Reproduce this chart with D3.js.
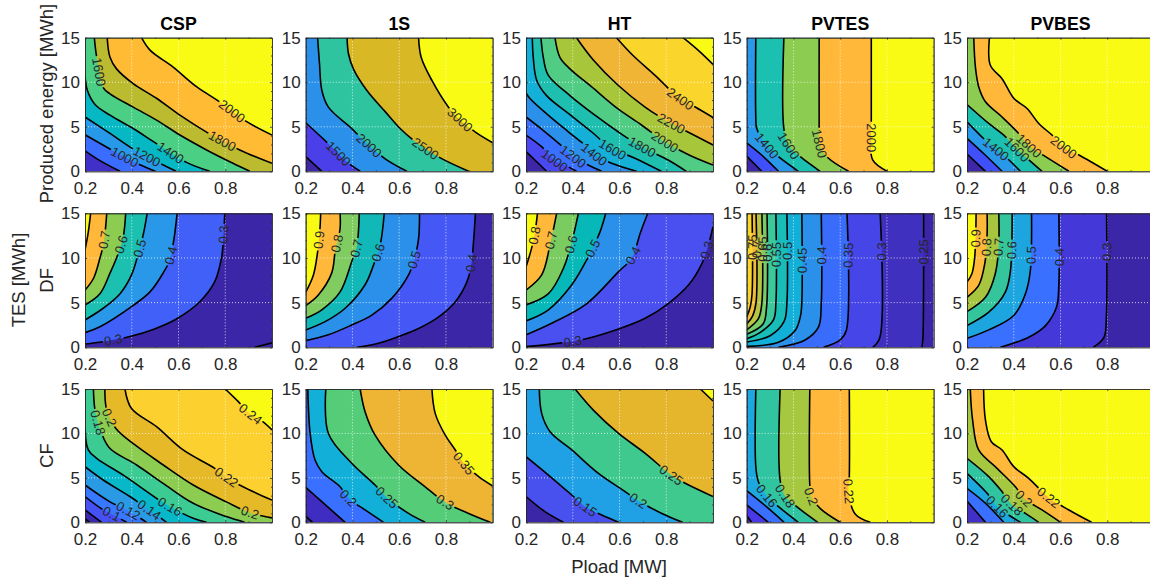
<!DOCTYPE html>
<html><head><meta charset="utf-8">
<style>html,body{margin:0;padding:0;background:#fff;overflow:hidden}svg{display:block}text{font-family:"Liberation Sans",Arial,sans-serif;fill:#262626}</style>
<script src="https://cdn.jsdelivr.net/npm/d3@7"></script>
</head><body><svg id="c" width="1150" height="581"></svg>
<script>
// ---- chart content ----
const techs = ["CSP","1S","HT","PVTES","PVBES"];
const rowNames = ["Produced energy [MWh]","DF","CF"];
const xTicks = [0.2,0.4,0.6,0.8];
const yTicks = [0,5,10,15];
const xMinor = [0.3,0.5,0.7,0.9];
const yMinor = [1,2,3,4,6,7,8,9,11,12,13,14];

// contour lines: [level, [[Pload, TES], ...]]
const energyCSP = [
[800,[[.2,2.3],[.264,1.2],[.35,0]]],
[1000,[[.2,4.1],[.314,2.4],[.406,1.1],[.5,0]]],
[1200,[[.2,6.1],[.307,4.25],[.406,2.5],[.535,.7],[.59,0]]],
[1400,[[.2,10.7],[.21,9.1],[.243,7.5],[.307,6.3],[.406,4.8],[.506,3.1],[.634,1],[.734,0]]],
[1600,[[.24,15],[.25,12.8],[.278,9.4],[.307,8.7],[.406,7.2],[.506,5.75],[.606,4.07],[.72,2.4],[.833,.9],[.905,0]]],
[1800,[[.295,15],[.307,12.8],[.335,11.5],[.406,9.85],[.506,8.2],[.606,6.3],[.72,4.4],[.862,2.4],[1,.9]]],
[2000,[[.442,15],[.478,13.6],[.577,11.7],[.677,9.5],[.776,7.8],[.89,5.6],[1,4.07]]]];
const energy1S = [
[1000,[[.2,1.65],[.269,0]]],
[1500,[[.2,5.45],[.297,3.1],[.383,.9],[.433,0]]],
[2000,[[.251,15],[.259,12.1],[.269,9.1],[.297,7.2],[.397,4.8],[.454,3.3],[.54,1.4],[.633,0]]],
[2500,[[.377,15],[.383,13.2],[.404,11.5],[.461,9.1],[.54,6.7],[.604,4.8],[.661,3.5],[.769,1.6],[.897,0]]],
[3000,[[.683,15],[.694,12.8],[.74,10.2],[.811,7.2],[.861,5.75],[.926,4.4],[1,3.2]]]];
const energyHT = [
[800,[[.2,2.2],[.238,1.27],[.288,0]]],
[1000,[[.2,4.07],[.267,2.76],[.324,1.16],[.374,.6],[.416,0]]],
[1200,[[.2,6.1],[.281,4.44],[.352,2.87],[.402,1.64],[.466,.7],[.523,0]]],
[1400,[[.2,8.8],[.217,8.17],[.295,6.3],[.381,4.44],[.452,2.95],[.495,1.83],[.566,.9],[.673,0]]],
[1600,[[.227,15],[.231,12.8],[.246,10.2],[.288,8.5],[.381,6.5],[.48,4.44],[.573,2.4],[.651,1.64],[.779,0]]],
[1800,[[.264,15],[.274,12.8],[.295,10.8],[.388,8.5],[.495,6.3],[.594,4.44],[.694,2.76],[.808,1.27],[.886,0]]],
[2000,[[.324,15],[.345,12.8],[.388,11.5],[.48,9.5],[.594,7],[.694,5.2],[.794,3.3],[.9,1.8],[1,.7]]],
[2200,[[.416,15],[.488,12.5],[.594,9.66],[.708,7.24],[.808,5.56],[.879,4.6],[1,2.95]]],
[2400,[[.587,15],[.658,13],[.751,10.8],[.858,8.17],[.922,7.24],[1,6.04]]],
[2600,[[.872,15],[.936,13.6],[1,12]]]];
const energyPVTES = [
[1000,[[.2,1.7],[.264,0]]],
[1200,[[.2,3.2],[.264,1.83],[.336,0]]],
[1400,[[.239,15],[.239,6.1],[.243,4.8],[.286,2.87],[.336,1.64],[.421,0]]],
[1600,[[.359,15],[.359,4.8],[.379,2.87],[.429,1.64],[.514,0]]],
[1800,[[.51,15],[.51,4.8],[.511,3.1],[.543,1.64],[.636,0]]],
[2000,[[.733,15],[.733,6.1],[.733,3.8],[.739,1.27],[.8,0]]]];
const energyPVBES = [
[1000,[[.2,1.94],[.279,0]]],
[1200,[[.2,3.7],[.271,2],[.35,0]]],
[1400,[[.2,5.56],[.293,3.13],[.364,1.64],[.429,0]]],
[1600,[[.2,7.5],[.293,5.37],[.364,3.9],[.407,2.6],[.457,1.45],[.521,0]]],
[1800,[[.229,15],[.236,11.7],[.25,9.5],[.279,7.8],[.35,6.1],[.421,4.25],[.464,2.87],[.536,1.64],[.636,0]]],
[2000,[[.296,15],[.3,11.9],[.35,10.4],[.4,8.2],[.457,7.05],[.507,5.37],[.571,3.9],[.614,2.7],[.679,1.83],[.8,0]]]];

const dfCSP = [
[.25,[[.926,0],[1,.5]]],
[.3,[[.2,.37],[.278,.63],[.392,1.2],[.492,2],[.591,3.17],[.691,5.1],[.755,7.35],[.784,10],[.791,11.8],[.798,15]]],
[.4,[[.2,1.64],[.264,2.3],[.399,4.55],[.478,6.2],[.534,8.3],[.563,9.8],[.581,12.2],[.594,15]]],
[.5,[[.2,3.06],[.278,4.37],[.35,6],[.399,8.1],[.428,10.5],[.449,12.6],[.466,15]]],
[.6,[[.2,4.74],[.264,6],[.307,8.3],[.342,10.5],[.364,12.4],[.374,15]]],
[.7,[[.2,6.4],[.236,7.7],[.264,10],[.281,11.8],[.293,15]]],
[.8,[[.2,10.9],[.214,12.9],[.224,15]]]];
const df1S = [
[.4,[[.419,0],[.511,.45],[.597,1.2],[.683,2.1],[.769,3.4],[.84,5.1],[.89,7.35],[.909,9.4],[.919,12.2],[.926,15]]],
[.5,[[.2,.75],[.297,1.4],[.397,2.5],[.483,3.6],[.569,5.5],[.64,8.1],[.666,10],[.683,12.2],[.687,15]]],
[.6,[[.2,1.94],[.283,2.87],[.369,4.37],[.454,7],[.49,9.2],[.519,11.5],[.536,15]]],
[.7,[[.2,3.25],[.269,4.2],[.347,6.2],[.397,9.6],[.419,11.3],[.429,15]]],
[.8,[[.2,4.66],[.254,5.86],[.311,8.3],[.326,10.7],[.347,13.3],[.347,15]]],
[.9,[[.2,6.16],[.233,8.1],[.25,10.5],[.261,13.3],[.264,15]]]];
const dfHT = [
[.3,[[.2,.07],[.353,.5],[.453,.93],[.596,2.05],[.71,3.25],[.81,4.93],[.896,7],[.953,9.4],[.981,11.5],[1,13.5]]],
[.4,[[.2,1.4],[.31,2.7],[.453,4.74],[.596,8.47],[.653,10],[.689,12.8],[.721,15]]],
[.5,[[.2,2.95],[.296,4.2],[.396,7],[.46,9.8],[.517,12.95],[.541,15]]],
[.6,[[.2,4.74],[.296,6],[.36,8.84],[.396,11.8],[.424,15]]],
[.7,[[.2,6.4],[.267,8.1],[.303,11.5],[.331,15]]],
[.8,[[.2,9],[.224,11.1],[.239,12.95],[.249,15]]]];
const dfPVTES = [
[.25,[[.95,0],[.954,1.1],[.957,15]]],
[.3,[[.739,0],[.769,1.05],[.771,15]]],
[.35,[[.529,0],[.6,.82],[.626,1.87],[.629,15]]],
[.4,[[.336,0],[.45,.82],[.507,2.25],[.519,4.87],[.519,15]]],
[.45,[[.2,.1],[.336,.56],[.407,1.87],[.43,3.5],[.436,5.2],[.436,15]]],
[.5,[[.2,.6],[.3,1.3],[.36,2.9],[.372,5],[.372,15]]],
[.55,[[.2,.95],[.26,1.7],[.315,3.1],[.325,5],[.325,15]]],
[.6,[[.2,1.45],[.27,2.6],[.285,4.5],[.287,15]]],
[.65,[[.2,1.95],[.25,3.2],[.265,5],[.265,15]]],
[.7,[[.2,2.6],[.225,3.5],[.24,5],[.24,15]]],
[.75,[[.2,3.4],[.215,4.5],[.223,6],[.223,15]]]];
const dfPVBES = [
[.3,[[.74,0],[.786,1.12],[.796,3.37],[.797,15]]],
[.4,[[.343,0],[.464,1.12],[.536,2.43],[.583,4.5],[.593,7.1],[.593,15]]],
[.5,[[.2,1],[.293,1.95],[.4,3.56],[.45,6],[.471,8.6],[.476,15]]],
[.6,[[.2,2.43],[.293,3.93],[.364,6.18],[.386,8.6],[.393,15]]],
[.7,[[.2,4],[.279,5.6],[.321,8.24],[.336,11.6],[.336,15]]],
[.8,[[.2,5.6],[.25,6.93],[.276,9.36],[.286,12.7],[.286,15]]],
[.9,[[.2,7.3],[.221,8.24],[.233,10.1],[.239,15]]]];

const cfCSP = [
[.06,[[.2,.4],[.22,0]]],
[.08,[[.2,1.4],[.271,0]]],
[.1,[[.2,2.9],[.278,1.4],[.314,.94],[.378,0]]],
[.12,[[.2,4.2],[.307,2.3],[.385,1.3],[.463,0]]],
[.14,[[.2,6.26],[.278,4.76],[.392,2.9],[.475,1.39],[.549,0]]],
[.16,[[.2,10.6],[.214,8.14],[.25,7.2],[.364,5.3],[.506,2.7],[.563,1.76],[.663,.45],[.72,0]]],
[.18,[[.236,15],[.243,12.6],[.271,10],[.307,8.3],[.421,6.45],[.534,4.39],[.663,2.14],[.805,.64],[.883,0]]],
[.2,[[.285,15],[.293,12.6],[.335,10.46],[.414,8.7],[.535,6.45],[.663,4.2],[.805,2.3],[.905,1.09],[1,.5]]],
[.22,[[.371,15],[.399,12.8],[.506,10.76],[.62,8.14],[.755,6.07],[.805,5.06],[.876,4],[1,2.5]]],
[.24,[[.8,15],[.855,13.6],[.907,12.2],[.962,11.3],[1,10.4]]]];
const cf1S = [
[.1,[[.2,.7],[.229,0]]],
[.15,[[.2,3.94],[.269,2.32],[.369,0]]],
[.2,[[.209,15],[.219,10],[.24,7],[.269,5.7],[.347,4],[.383,2.7],[.454,1.39],[.533,0]]],
[.25,[[.286,15],[.297,10],[.397,6.64],[.497,4.2],[.547,2.77],[.64,1],[.711,0]]],
[.3,[[.433,15],[.454,12.45],[.497,9.8],[.597,6.45],[.711,4],[.797,2.25],[.897,1],[.99,0]]],
[.35,[[.74,15],[.754,12.26],[.797,9.8],[.84,8.14],[.876,6.64],[.94,5.14],[1,4.09]]]];
const cfHT = [
[.1,[[.2,2.9],[.281,1.2],[.36,0]]],
[.15,[[.2,7.39],[.296,5.32],[.396,3.07],[.453,1.76],[.524,.82],[.596,0]]],
[.2,[[.257,15],[.267,12.26],[.303,10.2],[.396,8.14],[.51,5.5],[.624,3.45],[.679,2.44],[.781,1],[.87,0]]],
[.25,[[.41,15],[.489,12.6],[.596,10],[.71,7.76],[.821,5.32],[.881,4.39],[1,2.9]]],
[.3,[[.946,15],[1,13.65]]]];
const cfPVTES = [
[.12,[[.2,.75],[.221,0]]],
[.13,[[.2,1.95],[.293,0]]],
[.14,[[.2,3.56],[.293,1.57],[.36,0]]],
[.16,[[.239,15],[.239,6.26],[.25,4.57],[.286,2.96],[.336,1.76],[.421,0]]],
[.18,[[.343,15],[.343,4.76],[.364,2.96],[.414,1.76],[.504,0]]],
[.2,[[.47,15],[.47,4.2],[.476,2.9],[.514,1.57],[.6,0]]],
[.22,[[.639,15],[.639,5.14],[.636,3.45],[.664,.94],[.729,0]]]];
const cfPVBES = [
[.12,[[.2,2.4],[.279,0]]],
[.14,[[.2,3.82],[.279,2.14],[.357,0]]],
[.16,[[.2,5.5],[.286,3.26],[.329,1.76],[.429,0]]],
[.18,[[.2,7.2],[.293,5.14],[.35,3.45],[.393,1.95],[.45,1],[.507,0]]],
[.2,[[.214,15],[.224,11.5],[.25,8.14],[.321,6.26],[.407,4],[.443,2.7],[.521,1.39],[.6,0]]],
[.22,[[.271,15],[.279,11.5],[.304,9.07],[.35,8.14],[.4,6.26],[.464,4.95],[.55,2.77],[.636,1.39],[.733,0]]]];

// contour labels: [text, Pload, TES] (snapped to the line of that level)
const energyCSPLabels = [["1000",.364,1.27],["1200",.463,1.53],["1400",.563,2],["1600",.26,11.15],["1800",.784,3.3],["2000",.83,6.8]];
const energy1SLabels = [["1500",.337,1.9],["2000",.469,2.87],["2500",.711,2.5],["3000",.861,5.8]];
const energyHTLabels = [["1000",.321,1.16],["1200",.402,1.7],["1400",.495,2],["1600",.573,2.57],["1800",.698,2.76],["2000",.794,3.3],["2200",.822,5.45],["2400",.858,8.1]];
const energyPVTESLabels = [["1400",.286,2.87],["1600",.379,2.87],["1800",.511,3.1],["2000",.733,3.8]];
const energyPVBESLabels = [["1400",.324,2.5],["1600",.404,2.13],["1800",.464,2.87],["2000",.614,2.7]];
const dfCSPLabels = [["0.3",.321,.7],["0.3",.798,12.65],["0.4",.566,10.3],["0.5",.435,11.1],["0.6",.354,11.5],["0.7",.283,12]];
const df1SLabels = [["0.4",.909,9.4],["0.5",.666,9.8],["0.6",.511,10.6],["0.7",.411,11.1],["0.8",.34,11.6],["0.9",.257,12]];
const dfHTLabels = [["0.3",.4,.65],["0.3",.974,10.9],["0.4",.657,10.3],["0.5",.486,11.1],["0.6",.384,11.6],["0.7",.307,12],["0.8",.239,12.5]];
const dfPVTESLabels = [["0.25",.957,10.7],["0.3",.771,10.7],["0.35",.629,10.3],["0.4",.519,10.3],["0.45",.436,9.7],["0.5",.372,10.8],["0.55",.325,10.4],["0.6",.287,10.6],["0.65",.265,11],["0.7",.24,11],["0.75",.223,11.2]];
const dfPVBESLabels = [["0.3",.797,10.7],["0.4",.593,10.1],["0.5",.476,10.3],["0.6",.393,10.86],["0.7",.336,11.2],["0.8",.286,11.2],["0.9",.239,12.2]];
const cfCSPLabels = [["0.1",.314,.94],["0.12",.385,1.3],["0.14",.475,1.39],["0.16",.563,1.76],["0.18",.25,11.2],["0.2",.305,11.8],["0.2",.905,1.09],["0.22",.805,5.06],["0.24",.907,12.2]];
const cf1SLabels = [["0.2",.383,2.7],["0.25",.547,2.77],["0.3",.797,2.25],["0.35",.876,6.64]];
const cfHTLabels = [["0.15",.453,1.76],["0.2",.679,2.44],["0.25",.821,5.32]];
const cfPVTESLabels = [["0.16",.286,2.96],["0.18",.364,2.96],["0.2",.476,2.9],["0.22",.636,3.45]];
const cfPVBESLabels = [["0.16",.329,1.76],["0.18",.393,1.95],["0.2",.443,2.7],["0.22",.55,2.77]];

// ---- band colours, lowest band first ----
const colorsEnergyCSP = ["#4030c8","#3a6cff","#2799e8","#06b8c4","#4acf85","#bcbb2f","#ffbb33","#f9fb15"];
const colorsEnergy1S = ["#3e26a8","#4a3fe8","#2a90ea","#2fc4a0","#d9b826","#f9fb15"];
const colorsEnergyHT = ["#3e26a8","#4a48f0","#3a70ff","#2a90ea","#15b0d8","#1fbfb0","#50cc85","#a8c63a","#f0b535","#fad52b","#f9fb15"];
const colorsEnergyPV = ["#3e26a8","#4050f8","#2a98e8","#1cc0b0","#8ccc50","#ffb83a","#f9fb15"];
const colorsDfCSP = ["#3c26a8","#3c26a8","#4060f8","#2a98e8","#1cc0b0","#8ccc50","#ffb83a","#f9fb15"];
const colorsDf1S = ["#3c26a8","#4558f5","#2a90ea","#12b8b8","#80cc60","#ffb83a","#f9fb15"];
const colorsDfHT = ["#3c26a8","#4a50f0","#2a90ea","#06b8b8","#7acc60","#ffb83a","#f9fb15"];
const colorsDfPVTES = ["#3c26a8","#3f30c0","#4645e8","#3a6cfb","#2a90ea","#12b0d8","#18bdb8","#3cc89a","#78cc68","#b8c444","#f0bc38","#f9d52e"];
const colorsDfPVBES = ["#3c26a8","#4538d8","#3a70ff","#1ca5de","#35c59c","#a8c540","#ffb83a","#f9fb15"];
const colorsCfCSP = ["#3c26a8","#3c28ac","#4550f5","#3878ff","#2a9ae5","#06b8c8","#3ccb92","#8ccc50","#e5b928","#fcd02e","#f9fb15"];
const colorsCf1S = ["#3c26a8","#3f2cc0","#3a70ff","#12b0d8","#55cc78","#eeb535","#f9fb15"];
const colorsCfHT = ["#3c26a8","#4850ee","#20a0e5","#3fc98e","#e5b52c","#f9fb15"];
const colorsCfPVTES = ["#3c26a8","#4838e8","#3a70ff","#1ca8de","#30c5a0","#a5c840","#ffb83a","#f9fb15"];
const colorsCfPVBES = ["#4030c8","#3a70ff","#1ca8de","#30c5a0","#a5c840","#ffb83a","#f9fb15"];

const grid = [
 [[energyCSP,energyCSPLabels,colorsEnergyCSP],[energy1S,energy1SLabels,colorsEnergy1S],[energyHT,energyHTLabels,colorsEnergyHT],[energyPVTES,energyPVTESLabels,colorsEnergyPV],[energyPVBES,energyPVBESLabels,colorsEnergyPV]],
 [[dfCSP,dfCSPLabels,colorsDfCSP],[df1S,df1SLabels,colorsDf1S],[dfHT,dfHTLabels,colorsDfHT],[dfPVTES,dfPVTESLabels,colorsDfPVTES],[dfPVBES,dfPVBESLabels,colorsDfPVBES]],
 [[cfCSP,cfCSPLabels,colorsCfCSP],[cf1S,cf1SLabels,colorsCf1S],[cfHT,cfHTLabels,colorsCfHT],[cfPVTES,cfPVTESLabels,colorsCfPVTES],[cfPVBES,cfPVBESLabels,colorsCfPVBES]]
];

// ---- layout ----
const colX = [85,305.7,526,746.7,967], panelW = 187;
const rowY = [[37.7,171.3],[213.3,347.3],[389,522.3]];
const svg = d3.select("#c");
const ink = "#262626";

function closure(pts,row){
  const a=pts[0], b=pts[pts.length-1], c=[];
  if(row===1){ // high values toward the upper left
    if(b[0]>=1 && b[1]<15) c.push([1,15]);
    c.push([.2,15]);
    if(a[1]<=0) c.push([.2,0]);
  } else {     // high values toward the upper right
    if(b[1]<=0) c.push([1,0]);
    c.push([1,15]);
    if(a[0]<=.2) c.push([.2,15]);
  }
  return c;
}

grid.forEach((rowPanels,r)=>{
 rowPanels.forEach((panel,c)=>{
  const [lines,labels,colors]=panel;
  const x=d3.scaleLinear().domain([.2,1]).range([colX[c],colX[c]+panelW]);
  const y=d3.scaleLinear().domain([0,15]).range([rowY[r][1],rowY[r][0]]);
  const id=`clip${r}${c}`;
  svg.append("clipPath").attr("id",id).append("rect")
    .attr("x",x(.2)).attr("y",y(15)).attr("width",x(1)-x(.2)).attr("height",y(0)-y(15));
  const g=svg.append("g");
  const area=g.append("g").attr("clip-path",`url(#${id})`);
  area.append("rect").attr("x",x(.2)).attr("y",y(15)).attr("width",x(1)-x(.2)).attr("height",y(0)-y(15)).attr("fill",colors[0]);
  const curve=d3.line().x(d=>x(d[0])).y(d=>y(d[1])).curve(d3.curveCatmullRom.alpha(.5));
  lines.forEach(([lv,pts],i)=>{
    const extra=closure(pts,r).map(p=>`L${x(p[0])},${y(p[1])}`).join("");
    area.append("path").attr("d",curve(pts)+extra+"Z").attr("fill",colors[i+1]);
  });
  // dotted white grid
  xTicks.slice(1).forEach(t=>area.append("line").attr("x1",x(t)).attr("x2",x(t)).attr("y1",y(0)).attr("y2",y(15))
    .attr("stroke","#fff").attr("stroke-width",1).attr("stroke-dasharray","1 2").attr("stroke-opacity",.75));
  yTicks.slice(1,3).forEach(t=>area.append("line").attr("y1",y(t)).attr("y2",y(t)).attr("x1",x(.2)).attr("x2",x(1))
    .attr("stroke","#fff").attr("stroke-width",1).attr("stroke-dasharray","1 2").attr("stroke-opacity",.75));
  // contour lines with label gaps
  lines.forEach(([lv,pts])=>{
    const p=area.append("path").attr("d",curve(pts)).attr("fill","none").attr("stroke","#000").attr("stroke-width",1.6);
    const node=p.node(), len=node.getTotalLength();
    const gaps=[];
    labels.filter(l=>Math.abs(+l[0]-lv)<1e-9).forEach(l=>{
      const tx=x(l[1]), ty=y(l[2]);
      let best=0,bd=1e12;
      for(let s=0;s<=len;s+=.5){const q=node.getPointAtLength(s);const d=(q.x-tx)**2+(q.y-ty)**2;if(d<bd){bd=d;best=s;}}
      const pt=node.getPointAtLength(best);
      const q0=node.getPointAtLength(Math.max(0,best-9)), q1=node.getPointAtLength(Math.min(len,best+9));
      let ang=Math.atan2(q1.y-q0.y,q1.x-q0.x)*180/Math.PI;
      if(ang>90) ang-=180; if(ang<-90) ang+=180;
      if(Math.abs(ang)>85) ang=(r===1?-1:1)*Math.abs(ang);
      const t=area.append("text").text(l[0]).attr("font-size",13).attr("text-anchor","middle").attr("dominant-baseline","central")
        .attr("transform",`translate(${pt.x},${pt.y}) rotate(${ang})`);
      const w=t.node().getComputedTextLength()+3;
      gaps.push([best-w/2,best+w/2]);
    });
    if(gaps.length){
      gaps.sort((a,b)=>a[0]-b[0]);
      const dash=[];let cur=0;
      gaps.forEach(([s,e])=>{dash.push(Math.max(0,s-cur),e-Math.max(s,cur));cur=e;});
      dash.push(Math.max(0,len-cur),len+10);
      p.attr("stroke-dasharray",dash.join(" "));
    }
  });
  // box, ticks and tick labels through d3 axes
  const style=a=>{a.selectAll("path,line").attr("stroke",ink).attr("stroke-width",.8);a.selectAll("text").attr("font-size",17).attr("fill",ink);a.selectAll(".domain").attr("stroke-opacity",.85);};
  g.append("g").attr("transform",`translate(0,${y(0)})`).call(d3.axisBottom(x).tickValues(xTicks).tickFormat(d3.format(".1f")).tickSize(-2).tickSizeOuter(0).tickPadding(11)).call(style);
  g.append("g").attr("transform",`translate(${x(.2)},0)`).call(d3.axisLeft(y).tickValues(yTicks).tickFormat(d3.format("d")).tickSize(-2).tickSizeOuter(0).tickPadding(5)).call(style);
  g.append("g").attr("transform",`translate(0,${y(15)})`).call(d3.axisTop(x).tickValues(xTicks).tickFormat("").tickSize(-2).tickSizeOuter(0)).call(style);
  g.append("g").attr("transform",`translate(${x(1)},0)`).call(d3.axisRight(y).tickValues(yTicks).tickFormat("").tickSize(-2).tickSizeOuter(0)).call(style);
  g.append("g").attr("transform",`translate(0,${y(0)})`).call(d3.axisBottom(x).tickValues(xMinor).tickFormat("").tickSize(-1).tickSizeOuter(0)).call(style);
  g.append("g").attr("transform",`translate(0,${y(15)})`).call(d3.axisTop(x).tickValues(xMinor).tickFormat("").tickSize(-1).tickSizeOuter(0)).call(style);
  g.append("g").attr("transform",`translate(${x(.2)},0)`).call(d3.axisLeft(y).tickValues(yMinor).tickFormat("").tickSize(-1).tickSizeOuter(0)).call(style);
  g.append("g").attr("transform",`translate(${x(1)},0)`).call(d3.axisRight(y).tickValues(yMinor).tickFormat("").tickSize(-1).tickSizeOuter(0)).call(style);
  if(r===0) svg.append("text").text(techs[c]).attr("x",x(.6)).attr("y",30).attr("text-anchor","middle").attr("font-size",17.7).attr("font-weight","bold").style("fill","#000");
 });
});

rowNames.forEach((n,r)=>{
  svg.append("text").text(n).attr("text-anchor","middle").attr("font-size",18.5)
    .attr("transform",`translate(53,${(rowY[r][0]+rowY[r][1])/2-(r===0?1:0)}) rotate(-90)`);
});
svg.append("text").text("TES [MWh]").attr("text-anchor","middle").attr("font-size",18.5).attr("transform","translate(25,280) rotate(-90)");
svg.append("text").text("Pload [MW]").attr("text-anchor","middle").attr("font-size",18.5).attr("x",619).attr("y",573);
</script></body></html>
